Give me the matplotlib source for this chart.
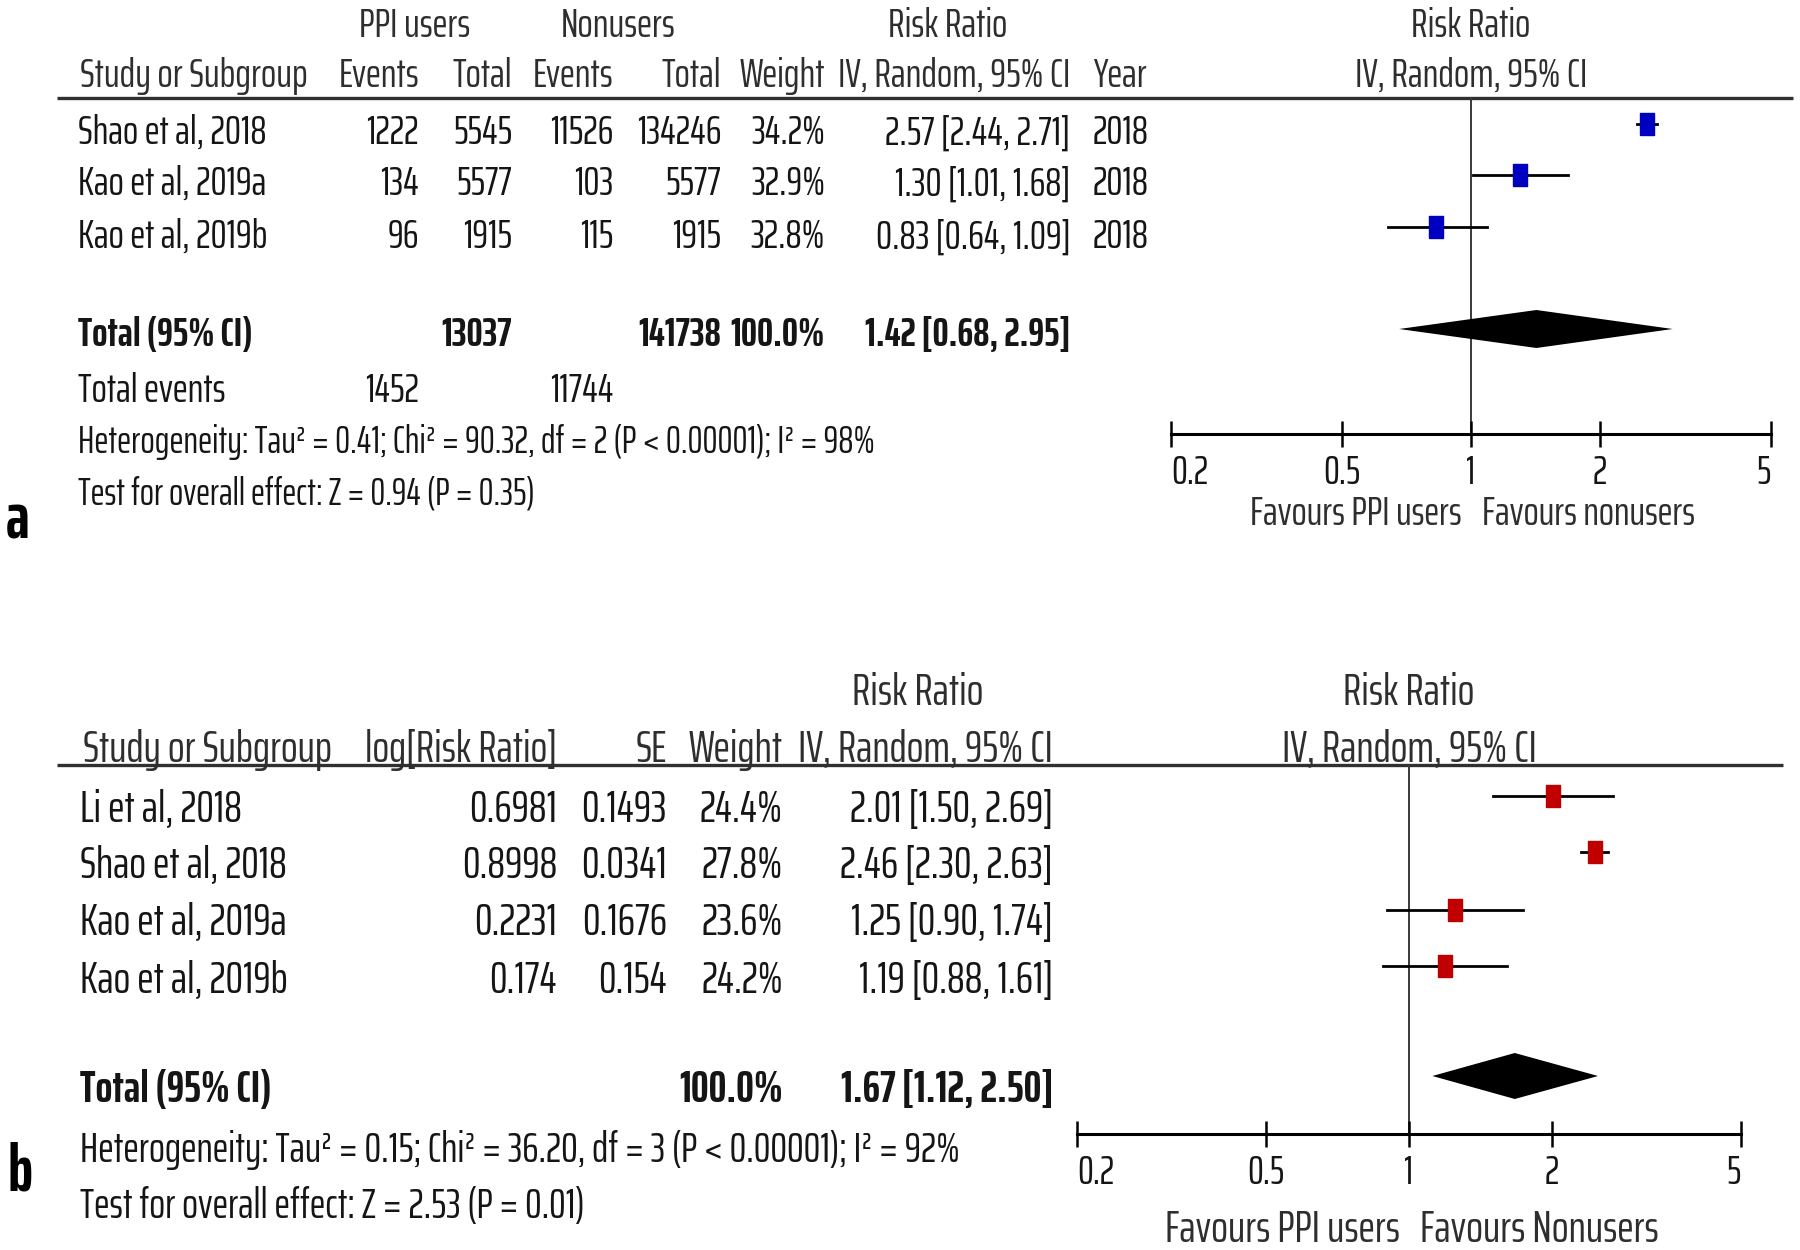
import os
import matplotlib
matplotlib.use('Agg')
import matplotlib.pyplot as plt
from matplotlib import font_manager as fm
from matplotlib.textpath import TextPath
from matplotlib.ticker import NullLocator

# ---- panel a: PPI users vs nonusers (events / totals)
studies_a = ['Shao et al, 2018', 'Kao et al, 2019a', 'Kao et al, 2019b']
ppi_events_a = [1222, 134, 96]
ppi_total_a = [5545, 5577, 1915]
non_events_a = [11526, 103, 115]
non_total_a = [134246, 5577, 1915]
weight_a = ['34.2%', '32.9%', '32.8%']
rr_a = [2.57, 1.30, 0.83]
lo_a = [2.44, 1.01, 0.64]
hi_a = [2.71, 1.68, 1.09]
year_a = [2018, 2018, 2018]
total_rr_a = [1.42, 0.68, 2.95]
total_n_a = [13037, 141738]
total_events_a = [1452, 11744]
het_a = 'Heterogeneity: Tau\u00b2 = 0.41; Chi\u00b2 = 90.32, df = 2 (P < 0.00001); I\u00b2 = 98%'
test_a = 'Test for overall effect: Z = 0.94 (P = 0.35)'

# ---- panel b: generic inverse variance
studies_b = ['Li et al, 2018', 'Shao et al, 2018', 'Kao et al, 2019a', 'Kao et al, 2019b']
log_rr_b = ['0.6981', '0.8998', '0.2231', '0.174']
se_b = ['0.1493', '0.0341', '0.1676', '0.154']
weight_b = ['24.4%', '27.8%', '23.6%', '24.2%']
rr_b = [2.01, 2.46, 1.25, 1.19]
lo_b = [1.50, 2.30, 0.90, 0.88]
hi_b = [2.69, 2.63, 1.74, 1.61]
total_rr_b = [1.67, 1.12, 2.50]
het_b = 'Heterogeneity: Tau\u00b2 = 0.15; Chi\u00b2 = 36.20, df = 3 (P < 0.00001); I\u00b2 = 92%'
test_b = 'Test for overall effect: Z = 2.53 (P = 0.01)'

ticks = [0.2, 0.5, 1, 2, 5]
tick_labels = ['0.2', '0.5', '1', '2', '5']


# ---- pick the narrowest proportional sans face available (original is Arial Narrow-like)
def wnum(f):
    w = f.weight
    if isinstance(w, str):
        return {'bold': 700, 'semibold': 600, 'demibold': 600, 'medium': 500}.get(w, 400)
    return int(w)


def ink(s, prop):
    bb = TextPath((0, 0), s, size=100, prop=prop).get_extents()
    return bb.width, bb.height


SANS_HINTS = ('sans', 'roboto', 'lato', 'inter', 'arial', 'helvetica', 'narrow', 'condensed')
groups = {}
for f in fm.fontManager.ttflist:
    nm = f.name.lower()
    base = os.path.basename(f.fname).lower()
    if f.style != 'normal':
        continue
    if any(k in nm + base for k in ('mono', 'serif', 'cjk', 'light', 'thin', 'black', 'display', 'italic')):
        continue
    if not any(k in nm + base for k in SANS_HINTS):
        continue
    key = (f.name, str(f.stretch))
    groups.setdefault(key, {})
    if wnum(f) == 400:
        groups[key]['reg'] = f.fname
    elif wnum(f) == 700:
        groups[key]['bold'] = f.fname

best, best_score = None, None
for key, g in groups.items():
    if 'reg' not in g or 'bold' not in g:
        continue
    try:
        p = fm.FontProperties(fname=g['reg'])
        wi = ink('iiiiii', p)[0]
        wm = ink('MMMMMM', p)[0]
        if wi / wm > 0.6:       # monospaced
            continue
        w, _ = ink('Shao et al, 2018', p)
        _, h = ink('2018', p)
    except Exception:
        continue
    score = abs(w / h - 5.8)
    if best_score is None or score < best_score:
        best, best_score = g, score

if best is not None:
    REG = fm.FontProperties(fname=best['reg'])
    BOLD = fm.FontProperties(fname=best['bold'])
else:
    REG = fm.FontProperties(family='Liberation Sans')
    BOLD = fm.FontProperties(family='Liberation Sans', weight='bold')

H_DIG = ink('0123456789', REG)[1]


def size_for(px, s, prop=REG):
    return px * 72.0 / ink(s, prop)[0]


W, H = 1800, 1250
fig = plt.figure(figsize=(W / 100, H / 100), dpi=100)
bg = fig.add_axes([0, 0, 1, 1])
bg.set_xlim(0, W)
bg.set_ylim(H, 0)
bg.axis('off')

BODY = '#151515'
HEAD = '#2e2e2e'


def txt(x, y, s, ha='left', size=23, bold=False, color=BODY):
    p = (BOLD if bold else REG).copy()
    p.set_size(size)
    cap = H_DIG * size / 72.0
    bg.text(x, y + cap / 2, s, ha=ha, va='baseline', fontproperties=p, color=color)


def fmt_ci(e, l, h):
    return '%.2f [%.2f, %.2f]' % (e, l, h)


rect = [(-0.31, -0.5), (0.31, -0.5), (0.31, 0.5), (-0.31, 0.5), (-0.31, -0.5)]


def forest(x0, x1, y_top, y_axis, ys, est, lo, hi, color, tot, tot_y, tot_h, fs, fav, fav_fs, fav_y):
    ax = fig.add_axes([x0 / W, 1 - y_axis / H, (x1 - x0) / W, (y_axis - y_top) / H])
    ax.patch.set_alpha(0)
    ax.set_xscale('log')
    ax.set_xlim(0.2, 5)
    ax.set_ylim(y_axis, y_top)
    ax.axvline(1, color='#3a3a3a', lw=1.4, zorder=1)
    for y, e, l, h in zip(ys, est, lo, hi):
        ax.plot([l, h], [y, y], color='black', lw=2.0, zorder=2)
        ax.plot([e], [y], marker=rect, ms=16.5, color=color, mec=color, zorder=3)
    e, l, h = tot
    ax.fill([l, e, h, e], [tot_y, tot_y - tot_h, tot_y, tot_y + tot_h], color='black', lw=0, zorder=3)
    for s in ['left', 'right', 'top']:
        ax.spines[s].set_visible(False)
    ax.spines['bottom'].set_linewidth(2.2)
    ax.set_yticks([])
    ax.set_xticks(ticks)
    ax.set_xticklabels(tick_labels)
    ax.xaxis.set_minor_locator(NullLocator())
    ax.tick_params(axis='x', direction='inout', length=19, width=1.8, pad=5, labelcolor=BODY)
    tp = REG.copy()
    tp.set_size(fs)
    lbls = ax.get_xticklabels()
    for lb in lbls:
        lb.set_fontproperties(tp)
    lbls[0].set_ha('left')
    lbls[-1].set_ha('right')
    xc = (x0 + x1) / 2
    txt(xc - 9, fav_y, fav[0], ha='right', size=fav_fs, color=HEAD)
    txt(xc + 11, fav_y, fav[1], ha='left', size=fav_fs, color=HEAD)
    return ax


# ================= panel a =================
fa = size_for(186, 'Shao et al, 2018')
col_a = {'study': 78, 'pe': 419, 'pt': 512, 'ne': 613, 'nt': 721, 'w': 825, 'ci': 1070, 'yr': 1093}
fx0, fx1 = 1171, 1771
fc_a = (fx0 + fx1) / 2
txt(415, 23, 'PPI users', ha='center', size=fa, color=HEAD)
txt(618, 23, 'Nonusers', ha='center', size=fa, color=HEAD)
txt(948, 23, 'Risk Ratio', ha='center', size=fa, color=HEAD)
txt(fc_a, 23, 'Risk Ratio', ha='center', size=fa, color=HEAD)
hy = 73
txt(col_a['study'] + 2, hy, 'Study or Subgroup', size=fa, color=HEAD)
txt(col_a['pe'], hy, 'Events', ha='right', size=fa, color=HEAD)
txt(col_a['pt'], hy, 'Total', ha='right', size=fa, color=HEAD)
txt(col_a['ne'], hy, 'Events', ha='right', size=fa, color=HEAD)
txt(col_a['nt'], hy, 'Total', ha='right', size=fa, color=HEAD)
txt(col_a['w'], hy, 'Weight', ha='right', size=fa, color=HEAD)
txt(col_a['ci'], hy, 'IV, Random, 95% CI', ha='right', size=fa, color=HEAD)
txt(col_a['yr'], hy, 'Year', size=fa, color=HEAD)
txt(fc_a, hy, 'IV, Random, 95% CI', ha='center', size=fa, color=HEAD)
bg.plot([57, 1793], [98, 98], color='#303030', lw=2.4, solid_capstyle='butt')

rows_a = [130, 181, 234]
for i, y in enumerate(rows_a):
    txt(col_a['study'], y, studies_a[i], size=fa)
    txt(col_a['pe'], y, str(ppi_events_a[i]), ha='right', size=fa)
    txt(col_a['pt'], y, str(ppi_total_a[i]), ha='right', size=fa)
    txt(col_a['ne'], y, str(non_events_a[i]), ha='right', size=fa)
    txt(col_a['nt'], y, str(non_total_a[i]), ha='right', size=fa)
    txt(col_a['w'], y, weight_a[i], ha='right', size=fa)
    txt(col_a['ci'], y, fmt_ci(rr_a[i], lo_a[i], hi_a[i]), ha='right', size=fa)
    txt(col_a['yr'], y, str(year_a[i]), size=fa)

ty = 332
txt(col_a['study'], ty, 'Total (95% CI)', size=fa, bold=True)
txt(col_a['pt'], ty, str(total_n_a[0]), ha='right', size=fa, bold=True)
txt(col_a['nt'], ty, str(total_n_a[1]), ha='right', size=fa, bold=True)
txt(col_a['w'], ty, '100.0%', ha='right', size=fa, bold=True)
txt(col_a['ci'], ty, fmt_ci(*total_rr_a), ha='right', size=fa, bold=True)
txt(col_a['study'], 388, 'Total events', size=fa)
txt(col_a['pe'], 388, str(total_events_a[0]), ha='right', size=fa)
txt(col_a['ne'], 388, str(total_events_a[1]), ha='right', size=fa)
txt(col_a['study'], 440, het_a, size=min(fa, size_for(794, het_a)))
txt(col_a['study'], 491, test_a, size=min(fa, size_for(456, test_a)))

lab_fs = 34 * 72.0 / ink('a', BOLD)[1]
txt(6, 516, 'a', size=lab_fs, bold=True, color='black')

forest(fx0, fx1, 98, 434, [124, 175, 227], rr_a, lo_a, hi_a, '#0000c0',
       total_rr_a, 329, 19, size_for(34, '0.2'),
       ('Favours PPI users', 'Favours nonusers'), size_for(209, 'Favours PPI users'), 511)

# ================= panel b =================
fb = size_for(204, 'Shao et al, 2018')
col_b = {'study': 80, 'log': 557, 'se': 667, 'w': 783, 'ci': 1053}
gx0, gx1 = 1077, 1741
fc_b = (gx0 + gx1) / 2
txt(918, 689, 'Risk Ratio', ha='center', size=fb, color=HEAD)
txt(fc_b, 689, 'Risk Ratio', ha='center', size=fb, color=HEAD)
hy = 746
txt(col_b['study'] + 3, hy, 'Study or Subgroup', size=fb, color=HEAD)
txt(col_b['log'], hy, 'log[Risk Ratio]', ha='right', size=fb, color=HEAD)
txt(col_b['se'], hy, 'SE', ha='right', size=fb, color=HEAD)
txt(col_b['w'], hy, 'Weight', ha='right', size=fb, color=HEAD)
txt(col_b['ci'], hy, 'IV, Random, 95% CI', ha='right', size=fb, color=HEAD)
txt(fc_b, hy, 'IV, Random, 95% CI', ha='center', size=fb, color=HEAD)
bg.plot([57, 1783], [765, 765], color='#303030', lw=2.4, solid_capstyle='butt')

rows_b = [806, 862, 919, 977]
for i, y in enumerate(rows_b):
    txt(col_b['study'], y, studies_b[i], size=fb)
    txt(col_b['log'], y, log_rr_b[i], ha='right', size=fb)
    txt(col_b['se'], y, se_b[i], ha='right', size=fb)
    txt(col_b['w'], y, weight_b[i], ha='right', size=fb)
    txt(col_b['ci'], y, fmt_ci(rr_b[i], lo_b[i], hi_b[i]), ha='right', size=fb)

ty = 1086
txt(col_b['study'], ty, 'Total (95% CI)', size=fb, bold=True)
txt(col_b['w'], ty, '100.0%', ha='right', size=fb, bold=True)
txt(col_b['ci'], ty, fmt_ci(*total_rr_b), ha='right', size=fb, bold=True)
txt(col_b['study'], 1147, het_b, size=min(fb, size_for(876, het_b)))
txt(col_b['study'], 1203, test_b, size=min(fb, size_for(502, test_b)))
txt(7, 1168, 'b', size=lab_fs, bold=True, color='black')

forest(gx0, gx1, 765, 1134, [796, 852, 910, 966], rr_b, lo_b, hi_b, '#c00000',
       total_rr_b, 1076, 23, size_for(34, '0.2'),
       ('Favours PPI users', 'Favours Nonusers'), size_for(231, 'Favours PPI users'), 1226)

fig.savefig('out.png', dpi=100)
